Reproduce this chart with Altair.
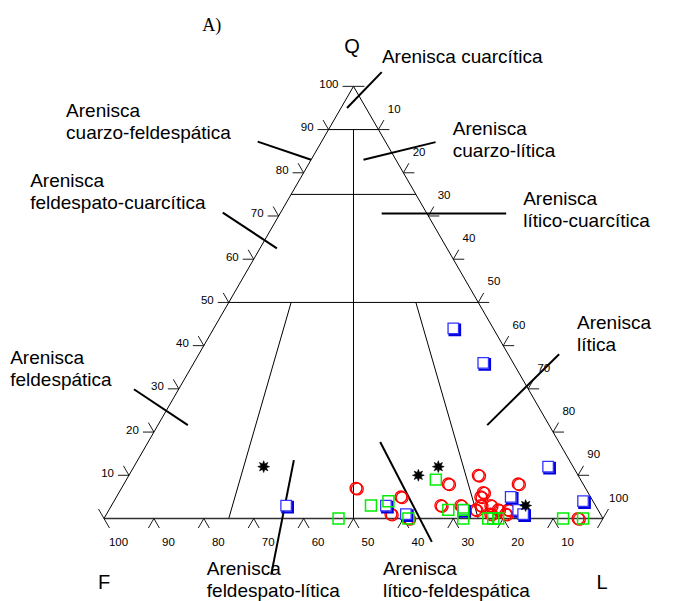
import math
import altair as alt
import pandas as pd

# ---------------- data (ternary percentages: Q, L ; F = 100 - Q - L) ----------------
blue_Q = [44, 36, 12, 4, 5, 2, 1, 3, 3, 1, 2]
blue_L = [48, 58, 83, 94, 79, 82, 83.5, 35, 55, 60, 71]

green_Q = [0, 3, 4, 0, 9, 2, 2, 0, 0, 0, 0, 0, 0]
green_L = [47, 52, 55, 61, 62, 68, 71, 72, 77, 78, 79, 92, 96]

red_Q = [7, 5, 1, 0, 3, 8, 3, 10, 6, 5, 3, 2, 3, 1, 2, 1, 2, 8, 0]
red_L = [47, 57, 57, 61, 66, 65, 70, 70, 73, 73, 74, 73.5, 76, 77, 78, 80, 80, 79, 95]

star_Q = [12, 10, 12, 3]
star_L = [26, 58, 61, 83]

tick_values = [10, 20, 30, 40, 50, 60, 70, 80, 90, 100]

# classification boundaries (Q, L) -> (Q, L)
class_lines = [
    ((0, 0), (100, 0)),      # F-Q edge
    ((100, 0), (0, 100)),    # Q-L edge
    ((90, 0), (90, 10)),
    ((75, 0), (75, 25)),
    ((50, 0), (50, 50)),
    ((90, 5), (0, 50)),
    ((50, 12.5), (0, 25)),
    ((50, 37.5), (0, 75)),
]
base_line = [((0, 0), (0, 100))]

# pointer lines from the field names (Q, L) -> (Q, L)
pointer_lines = [
    ((95.0, 1.2), (103.3, 4.0)),
    ((87.2, -12.8), (83.0, 0.0)),
    ((70.8, -11.6), (62.5, 3.4)),
    ((83.0, 10.5), (87.1, 22.9)),
    ((70.6, 20.35), (70.6, 45.3)),
    ((21.6, 66.0), (38.0, 72.2)),
    ((29.9, -8.95), (21.6, 6.0)),
    ((13.5, 31.3), (-13.0, 40.0)),
    ((17.7, 46.5), (-5.4, 68.4)),
]

# text labels in diagram units (x: F=0 -> L=1, y: base=0)
field_text = ["Arenisca cuarcítica",
              "Arenisca", "cuarzo-feldespática",
              "Arenisca", "feldespato-cuarcítica",
              "Arenisca", "cuarzo-lítica",
              "Arenisca", "lítico-cuarcítica",
              "Arenisca", "lítica",
              "Arenisca", "feldespática",
              "Arenisca", "feldespato-lítica",
              "Arenisca", "lítico-feldespática"]
field_x = [0.557, -0.076, -0.076, -0.148, -0.148, 0.699, 0.699, 0.840, 0.840,
           0.948, 0.948, -0.188, -0.188, 0.206, 0.206, 0.559, 0.559]
field_y = [0.913, 0.804, 0.760, 0.664, 0.620, 0.768, 0.724, 0.628, 0.584,
           0.380, 0.336, 0.310, 0.266, -0.113, -0.157, -0.113, -0.157]

pole_text = ["Q", "F", "L"]
pole_x = [0.497, 0.0, 0.998]
pole_y = [0.933, -0.141, -0.141]

panel_text = ["A)"]
panel_x = [0.216]
panel_y = [0.977]

# ---------------- helpers ----------------
H = math.sqrt(3) / 2


def tx(q, l):
    return l / 100 + q / 200


def ty(q):
    return q / 100 * H


def pts(Q, L):
    return pd.DataFrame({"x": [tx(q, l) for q, l in zip(Q, L)],
                         "y": [ty(q) for q in Q]})


def segs(lines):
    rows = []
    for (q1, l1), (q2, l2) in lines:
        rows.append({"x": tx(q1, l1), "y": ty(q1), "x2": tx(q2, l2), "y2": ty(q2)})
    return pd.DataFrame(rows)


xs = alt.Scale(domain=[-0.19238, 1.13026], nice=False, zero=False)
ys = alt.Scale(domain=[-0.16533, 1.02305], nice=False, zero=False)
X = alt.X("x:Q", scale=xs, axis=None)
Y = alt.Y("y:Q", scale=ys, axis=None)


def rule_layer(df, width, color="black"):
    return alt.Chart(df).mark_rule(stroke=color, strokeWidth=width).encode(
        x=X, y=Y, x2="x2:Q", y2="y2:Q")


# ticks: extensions of the constant-value lines outside the triangle
tl = 0.022
c60, s60 = 0.5, H
tick_rows = []
for v in tick_values:
    xl, yl = tx(v, 0), ty(v)
    xr, yr = tx(v, 100 - v), ty(v)
    tick_rows.append({"x": xl, "y": yl, "x2": xl - tl, "y2": yl})
    tick_rows.append({"x": xr, "y": yr, "x2": xr + tl, "y2": yr})
    q = 100 - v
    xa, ya = tx(q, 0), ty(q)
    xb, yb = tx(0, q), 0.0
    tick_rows.append({"x": xa, "y": ya, "x2": xa - tl * c60, "y2": ya + tl * s60})
    tick_rows.append({"x": xb, "y": yb, "x2": xb + tl * c60, "y2": yb - tl * s60})
    xc, yc = tx(0, v), 0.0
    xd, yd = tx(100 - v, v), ty(100 - v)
    tick_rows.append({"x": xc, "y": yc, "x2": xc - tl * c60, "y2": yc - tl * s60})
    tick_rows.append({"x": xd, "y": yd, "x2": xd + tl * c60, "y2": yd + tl * s60})
ticks = pd.DataFrame(tick_rows)

lab_q = pd.DataFrame({"x": [tx(v, 0) for v in tick_values],
                      "y": [ty(v) for v in tick_values],
                      "t": [str(v) for v in tick_values]})
lab_l = pd.DataFrame({"x": [tx(100 - v, v) for v in tick_values],
                      "y": [ty(100 - v) for v in tick_values],
                      "t": [str(v) for v in tick_values]})
lab_f = pd.DataFrame({"x": [tx(0, 100 - v) for v in tick_values],
                      "y": [0.0 for v in tick_values],
                      "t": [str(v) for v in tick_values]})

FONT = "Liberation Sans"


def text_layer(df, **kw):
    return alt.Chart(df).mark_text(**kw).encode(x=X, y=Y, text="t:N")


# 8-pointed star shape
pp = []
for i in range(16):
    a = math.pi / 2 + i * math.pi / 8
    r = 1.0 if i % 2 == 0 else 0.5
    pp.append(f"{r * math.cos(a):.3f},{-r * math.sin(a):.3f}")
STAR = "M" + "L".join(pp) + "Z"

layers = [
    rule_layer(segs(class_lines), 1.0),
    rule_layer(segs(base_line), 1.6, "#333333"),
    rule_layer(ticks, 0.9),
    rule_layer(segs(pointer_lines), 2.0),
    text_layer(lab_q, align="right", baseline="middle", dx=-15, dy=-1.5,
               fontSize=11.5, font=FONT, color="black"),
    text_layer(lab_l, align="center", baseline="middle", dx=15.7, dy=-20,
               fontSize=11.5, font=FONT, color="black"),
    text_layer(lab_f, align="center", baseline="middle", dx=14.5, dy=24.5,
               fontSize=11.5, font=FONT, color="black"),
    text_layer(pd.DataFrame({"x": field_x, "y": field_y, "t": field_text}),
               align="left", baseline="alphabetic", fontSize=19, font=FONT, color="black"),
    text_layer(pd.DataFrame({"x": pole_x, "y": pole_y, "t": pole_text}),
               align="center", baseline="alphabetic", fontSize=20, font=FONT, color="black"),
    text_layer(pd.DataFrame({"x": panel_x, "y": panel_y, "t": panel_text}),
               align="center", baseline="alphabetic", fontSize=18,
               font="Liberation Serif", color="black"),
    # red circles (with offset shadow)
    alt.Chart(pts(red_Q, red_L)).mark_point(shape="circle", size=140, stroke="#ff0000",
                                            strokeWidth=1.3, filled=False, opacity=1,
                                            xOffset=1.3, yOffset=0.8).encode(x=X, y=Y),
    alt.Chart(pts(red_Q, red_L)).mark_point(shape="circle", size=140, stroke="#ff0000",
                                            strokeWidth=1.3, filled=False, opacity=1).encode(x=X, y=Y),
    # blue squares (with shadow)
    alt.Chart(pts(blue_Q, blue_L)).mark_point(shape="square", size=110, stroke="#0000dd",
                                              strokeWidth=2.2, filled=False, opacity=1,
                                              xOffset=1.5, yOffset=1.5).encode(x=X, y=Y),
    alt.Chart(pts(blue_Q, blue_L)).mark_point(shape="square", size=110, stroke="#3333ff",
                                              fill="white", fillOpacity=1,
                                              strokeWidth=1.3, opacity=1).encode(x=X, y=Y),
    # green squares
    alt.Chart(pts(green_Q, green_L)).mark_point(shape="square", size=120, stroke="#00ee00",
                                                strokeWidth=1.5, filled=False,
                                                opacity=1).encode(x=X, y=Y),
    # black stars
    alt.Chart(pts(star_Q, star_L)).mark_point(shape=STAR, size=140, fill="black",
                                              filled=True, stroke="black", strokeWidth=0.6,
                                              opacity=1).encode(x=X, y=Y),
]

chart = alt.layer(*layers).properties(
    width=660, height=593, padding=0, autosize="none"
).configure_view(stroke=None)

chart.save("out.html", embed_options={"renderer": "svg", "actions": False})
